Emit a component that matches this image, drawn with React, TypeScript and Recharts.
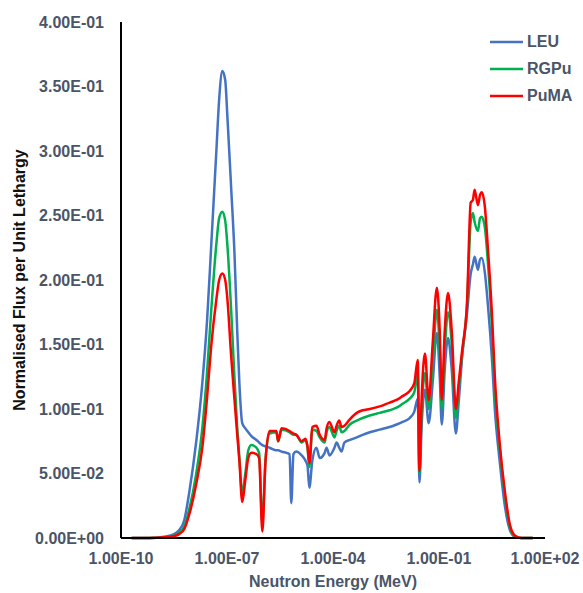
import { Legend, Line, LineChart, XAxis, YAxis } from 'recharts'

// neutron energy grid (MeV)
const energy = [
	2.0e-10, 6.2e-10, 1.66e-9, 3.2e-9, 4.4e-9, 6.2e-9, 8.5e-9, 1.35e-8, 2.0e-8, 2.75e-8,
	3.55e-8, 5.0e-8, 6.0e-8, 7.4e-8, 8.9e-8, 1.02e-7, 1.32e-7, 1.62e-7, 1.95e-7, 2.24e-7,
	2.7e-7, 3.3e-7, 4.0e-7, 4.9e-7, 6.8e-7, 8.1e-7, 1.0e-6, 1.23e-6, 1.6e-6, 2.5e-6,
	2.8e-6, 3.5e-6, 5.9e-6, 6.6e-6, 7.6e-6, 9.1e-6, 1.3e-5, 1.66e-5, 1.9e-5, 2.14e-5,
	2.6e-5, 3.4e-5, 4.2e-5, 5.8e-5, 6.6e-5, 7.9e-5, 1.1e-4, 1.26e-4, 1.5e-4, 1.74e-4,
	2.1e-4, 3.0e-4, 4.7e-4, 6.9e-4, 1.1e-3, 2.1e-3, 4.0e-3, 6.3e-3, 9.3e-3, 1.48e-2,
	2.0e-2, 2.5e-2, 2.8e-2, 3.2e-2, 4.0e-2, 5.1e-2, 6.6e-2, 8.7e-2, 0.105, 0.12,
	0.145, 0.18, 0.23, 0.3, 0.36, 0.45, 0.62, 0.79, 0.91, 1.02,
	1.26, 1.45, 1.62, 2.0, 2.4, 3.2, 3.8, 5.2, 7.4, 10.2,
	14, 21.5, 45,
]

const leu = [
	0, 0, 0.001, 0.003, 0.006, 0.014, 0.035, 0.075, 0.12, 0.17,
	0.225, 0.3, 0.34, 0.362, 0.355, 0.328, 0.27, 0.222, 0.16, 0.12,
	0.089, 0.085, 0.082, 0.079, 0.076, 0.074, 0.072, 0.071, 0.07, 0.068,
	0.068, 0.067, 0.065, 0.027, 0.065, 0.067, 0.064, 0.06, 0.056, 0.039,
	0.06, 0.07, 0.062, 0.066, 0.07, 0.064, 0.07, 0.074, 0.07, 0.067,
	0.074, 0.076, 0.078, 0.08, 0.082, 0.084, 0.086, 0.088, 0.09, 0.093,
	0.098, 0.108, 0.043, 0.085, 0.115, 0.089, 0.12, 0.159, 0.125, 0.088,
	0.13, 0.155, 0.13, 0.081, 0.105, 0.14, 0.174, 0.205, 0.212, 0.218,
	0.208, 0.216, 0.217, 0.205, 0.182, 0.136, 0.1, 0.06, 0.024, 0.006,
	0.001, 0, 0,
]

const rgpu = [
	0, 0, 0.0005, 0.002, 0.004, 0.009, 0.022, 0.05, 0.085, 0.13,
	0.175, 0.228, 0.248, 0.253, 0.246, 0.228, 0.175, 0.125, 0.085, 0.062,
	0.035, 0.05, 0.068, 0.072, 0.07, 0.066, 0.012, 0.06, 0.081, 0.082,
	0.075, 0.084, 0.082, 0.081, 0.08, 0.08, 0.074, 0.076, 0.07, 0.055,
	0.084, 0.083, 0.078, 0.074, 0.082, 0.086, 0.078, 0.083, 0.087, 0.082,
	0.083, 0.088, 0.091, 0.093, 0.095, 0.097, 0.099, 0.101, 0.104, 0.108,
	0.113, 0.128, 0.05, 0.095, 0.128, 0.1, 0.135, 0.177, 0.145, 0.1,
	0.145, 0.175, 0.15, 0.093, 0.115, 0.142, 0.18, 0.245, 0.252, 0.245,
	0.238, 0.248, 0.249, 0.24, 0.215, 0.16, 0.115, 0.07, 0.032, 0.008,
	0.001, 0, 0,
]

const puma = [
	0, 0, 0.0005, 0.0015, 0.003, 0.007, 0.018, 0.042, 0.07, 0.11,
	0.148, 0.185, 0.2, 0.205, 0.2, 0.186, 0.14, 0.108, 0.08, 0.06,
	0.028, 0.045, 0.062, 0.066, 0.065, 0.062, 0.005, 0.06, 0.083, 0.083,
	0.075, 0.085, 0.083, 0.082, 0.081, 0.08, 0.075, 0.077, 0.071, 0.058,
	0.086, 0.087, 0.08, 0.076, 0.085, 0.09, 0.082, 0.087, 0.091, 0.086,
	0.087, 0.092, 0.097, 0.099, 0.1, 0.102, 0.105, 0.107, 0.11, 0.114,
	0.12, 0.138, 0.052, 0.105, 0.143, 0.107, 0.15, 0.194, 0.16, 0.107,
	0.16, 0.19, 0.16, 0.1, 0.12, 0.145, 0.182, 0.26, 0.262, 0.27,
	0.258, 0.266, 0.268, 0.256, 0.226, 0.17, 0.125, 0.074, 0.035, 0.01,
	0.002, 0, 0,
]

const seriesNames = ['LEU', 'RGPu', 'PuMA']
const seriesColors = ['#4472C4', '#00B050', '#FF0000']

const xTicks = [1e-10, 1e-7, 1e-4, 1e-1, 1e2]
const yTicks = [0, 0.05, 0.1, 0.15, 0.2, 0.25, 0.3, 0.35, 0.4]

const data = energy.map((e, i) => ({ e, LEU: leu[i], RGPu: rgpu[i], PuMA: puma[i] }))

const FONT = '"Liberation Sans", Arial, sans-serif'
const TICK_COLOR = '#4A5568'

function sci(v: number) {
	if (v === 0) return '0.00E+00'
	const exp = Math.floor(Math.log10(v) + 1e-9)
	const mant = v / Math.pow(10, exp)
	return `${mant.toFixed(2)}E${exp < 0 ? '-' : '+'}${String(Math.abs(exp)).padStart(2, '0')}`
}

function ChartLegend() {
	return (
		<div style={{ fontFamily: FONT, fontWeight: 700, fontSize: 16, color: TICK_COLOR }}>
			{seriesNames.map((name, i) => (
				<div key={name} style={{ display: 'flex', alignItems: 'center', height: 27 }}>
					<svg width={37} height={4}>
						<line x1={0} y1={2} x2={33} y2={2} stroke={seriesColors[i]} strokeWidth={2.5} />
					</svg>
					<span>{name}</span>
				</div>
			))}
		</div>
	)
}

export default function App() {
	return (
		<div style={{ position: 'absolute', left: 0, top: 0, background: '#fff' }}>
			<LineChart
				width={583}
				height={593}
				data={data}
				margin={{ top: 22, right: 38, bottom: 0, left: 0 }}
				style={{ fontFamily: FONT }}
			>
				<XAxis
					dataKey='e'
					type='number'
					scale='log'
					domain={[1e-10, 1e2]}
					ticks={xTicks}
					tickFormatter={sci}
					allowDataOverflow
					height={55}
					axisLine={{ stroke: '#000', strokeWidth: 2 }}
					tickLine={false}
					tickSize={0}
					tickMargin={15}
					tick={{ fill: TICK_COLOR, fontSize: 16, fontWeight: 700 }}
					label={{
						value: 'Neutron Energy (MeV)',
						position: 'insideBottom',
						offset: 6,
						style: { fill: TICK_COLOR, fontSize: 16, fontWeight: 700 },
					}}
				/>
				<YAxis
					type='number'
					domain={[0, 0.4]}
					ticks={yTicks}
					tickFormatter={sci}
					width={121}
					axisLine={{ stroke: '#000', strokeWidth: 2 }}
					tickLine={false}
					tickSize={0}
					tickMargin={17}
					tick={{ fill: TICK_COLOR, fontSize: 16, fontWeight: 700 }}
					label={{
						value: 'Normalised Flux per Unit Lethargy',
						angle: -90,
						position: 'insideLeft',
						offset: 19,
						style: { fill: '#111', fontSize: 16, fontWeight: 700, textAnchor: 'middle' },
					}}
				/>
				<Legend
					verticalAlign='middle'
					align='center'
					layout='vertical'
					wrapperStyle={{ top: 28, left: 490, right: 'auto', bottom: 'auto', width: 93 }}
					content={() => <ChartLegend />}
				/>
				{seriesNames.map((name, i) => (
					<Line
						key={name}
						type='monotone'
						dataKey={name}
						stroke={seriesColors[i]}
						strokeWidth={2.5}
						dot={false}
						isAnimationActive={false}
					/>
				))}
			</LineChart>
		</div>
	)
}
